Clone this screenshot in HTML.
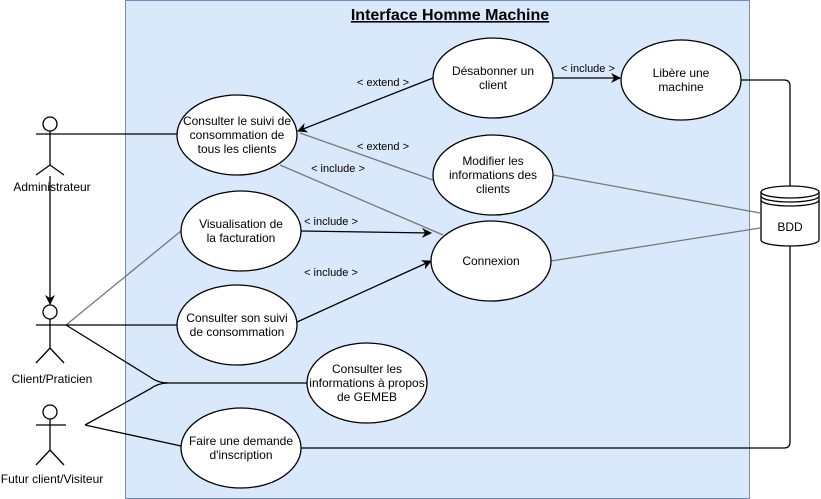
<!DOCTYPE html>
<html><head><meta charset="utf-8"><style>
body{margin:0;background:#fff;}
svg{display:block;font-family:"Liberation Sans",sans-serif;}
</style></head><body>
<svg width="821" height="499" viewBox="0 0 821 499" xmlns="http://www.w3.org/2000/svg">
<defs>
<marker id="a" markerWidth="10" markerHeight="10" refX="9" refY="5" orient="auto" markerUnits="userSpaceOnUse">
<path d="M0,0 L10,5 L0,10 L3,5 Z" fill="#000"/></marker>
</defs>
<rect x="125.5" y="0.5" width="624" height="498" fill="#dae8fc" stroke="#6c8ebf"/>
<text x="450" y="20" font-size="16" font-weight="bold" text-anchor="middle" text-decoration="underline">Interface Homme Machine</text>
<g fill="none" stroke="#000" stroke-width="1.3">
<line x1="66" y1="134" x2="177" y2="134"/>
<line x1="50" y1="176" x2="50" y2="304" marker-end="url(#a)"/>
<line x1="66" y1="325" x2="181" y2="231" stroke="#777"/>
<line x1="66" y1="325" x2="177" y2="325"/>
<path d="M66,325 L150,377 Q158,383 168,383 L307,383"/>
<path d="M85,425 L150,389 Q158,383 168,383"/>
<line x1="85" y1="425" x2="181" y2="446"/>
<path d="M301,448 L784,448 Q790,448 790,442 L790,246"/>
<path d="M741,80 L784,80 Q790,80 790,86 L790,186"/>
<line x1="553" y1="175" x2="760" y2="213" stroke="#777"/>
<line x1="551" y1="261" x2="760" y2="228" stroke="#777"/>
<line x1="433" y1="78" x2="298" y2="131" marker-end="url(#a)"/>
<line x1="433" y1="180" x2="300" y2="133" stroke="#777"/>
<line x1="280" y1="165" x2="443" y2="235" stroke="#777"/>
<line x1="301" y1="231" x2="431" y2="233" marker-end="url(#a)"/>
<line x1="297" y1="322" x2="431" y2="261" marker-end="url(#a)"/>
<line x1="553" y1="78" x2="620" y2="78" marker-end="url(#a)"/>
</g>
<g fill="#fff" stroke="#000" stroke-width="1.3">
<ellipse cx="237" cy="135" rx="60" ry="40"/>
<ellipse cx="241" cy="231" rx="60" ry="40"/>
<ellipse cx="237" cy="325" rx="60" ry="40"/>
<ellipse cx="367" cy="383" rx="60" ry="40"/>
<ellipse cx="241" cy="448" rx="60" ry="40"/>
<ellipse cx="493" cy="78" rx="60" ry="40"/>
<ellipse cx="681" cy="80" rx="60" ry="40"/>
<ellipse cx="493" cy="175" rx="60" ry="40"/>
<ellipse cx="491" cy="261" rx="60" ry="40"/>
<path d="M761,192 A29,6 0 0 1 819,192 L819,240 A29,6 0 0 1 761,240 Z"/>
<path d="M761,192 A29,6 0 0 0 819,192 M761,196 A29,6 0 0 0 819,196 M761,200 A29,6 0 0 0 819,200" fill="none"/>
</g>
<g fill="#fff" stroke="#000" stroke-width="1.3">
<circle cx="50" cy="124" r="7"/><path d="M50,131 V165 M36,134 H66 M36,175 L50,165 L64,175" fill="none"/>
<circle cx="50" cy="312" r="7"/><path d="M50,319 V348 M36,325 H66 M36,363 L50,348 L64,363" fill="none"/>
<circle cx="50" cy="412" r="7"/><path d="M50,419 V450 M36,425 H66 M36,465 L50,450 L64,465" fill="none"/>
</g>
<g font-size="12" text-anchor="middle" fill="#000">
<text x="52" y="191">Administrateur</text>
<text x="52" y="383">Client/Praticien</text>
<text x="52" y="483">Futur client/Visiteur</text>
<text x="237" y="125">Consulter le suivi de</text>
<text x="237" y="139">consommation de</text>
<text x="237" y="153">tous les clients</text>
<text x="241" y="228">Visualisation de</text>
<text x="241" y="242">la facturation</text>
<text x="237" y="322">Consulter son suivi</text>
<text x="237" y="336">de consommation</text>
<text x="367" y="373">Consulter les</text>
<text x="367" y="387">informations à propos</text>
<text x="367" y="401">de GEMEB</text>
<text x="241" y="445">Faire une demande</text>
<text x="241" y="459">d'inscription</text>
<text x="493" y="75">Désabonner un</text>
<text x="493" y="89">client</text>
<text x="681" y="77">Libère une</text>
<text x="681" y="91">machine</text>
<text x="493" y="165">Modifier les</text>
<text x="493" y="179">informations des</text>
<text x="493" y="193">clients</text>
<text x="491" y="265">Connexion</text>
<text x="790" y="231">BDD</text>
</g>
<g font-size="11" text-anchor="middle" fill="#000">
<text x="383" y="86">&lt; extend &gt;</text>
<text x="383" y="150">&lt; extend &gt;</text>
<text x="338" y="172">&lt; include &gt;</text>
<text x="331" y="225">&lt; include &gt;</text>
<text x="331" y="276">&lt; include &gt;</text>
<text x="588" y="72">&lt; include &gt;</text>
</g>
</svg>
</body></html>
